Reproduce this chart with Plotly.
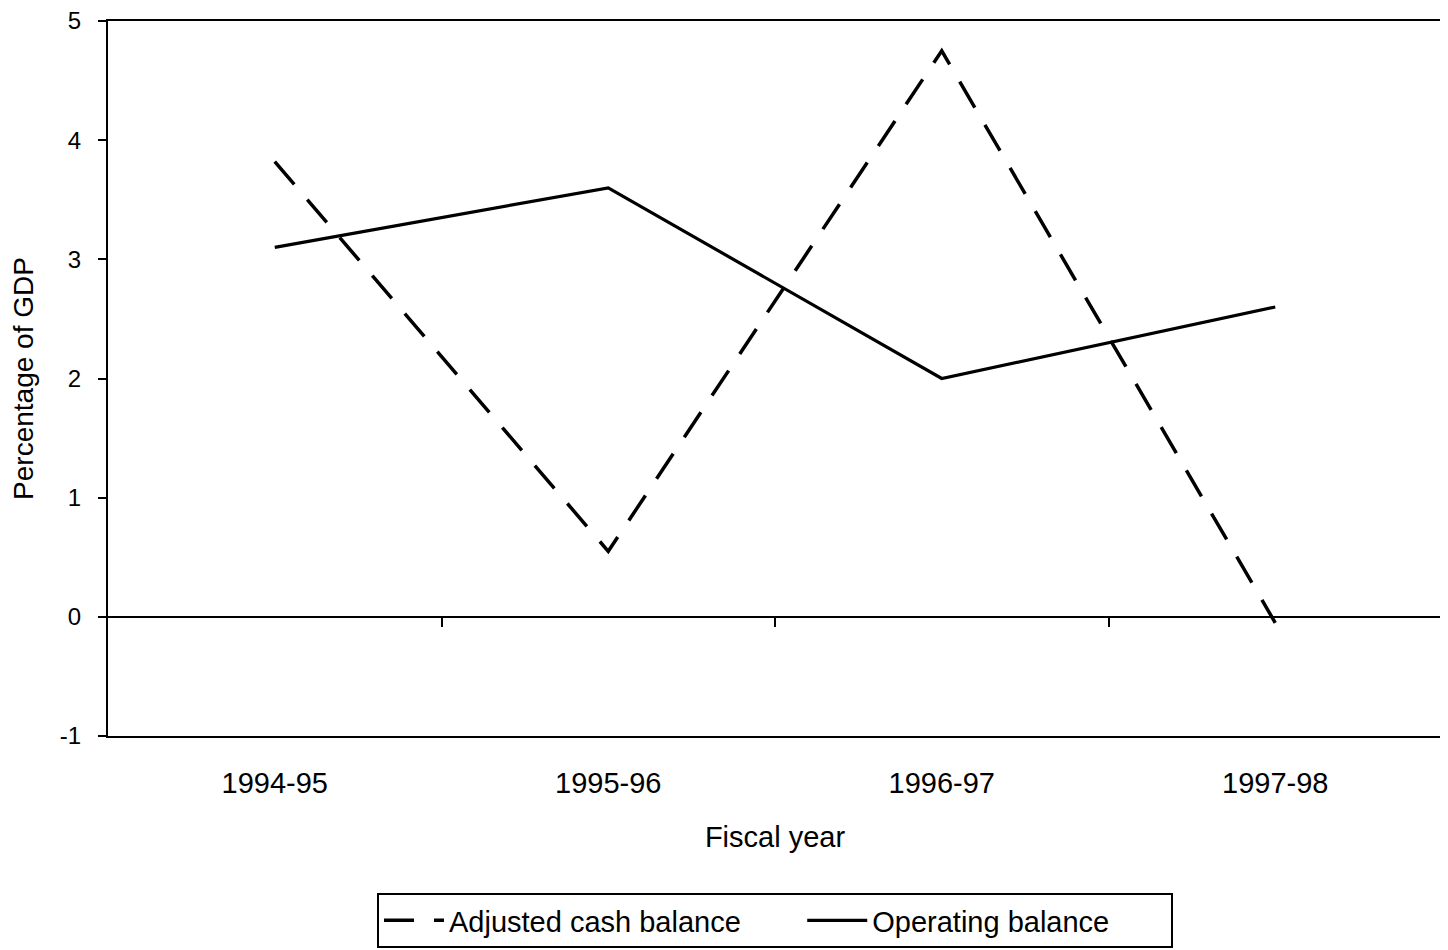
import plotly.graph_objects as go

categories = ["1994-95", "1995-96", "1996-97", "1997-98"]
adjusted_cash = [3.82, 0.55, 4.75, -0.05]
operating = [3.1, 3.6, 2.0, 2.6]
y_ticks = [-1, 0, 1, 2, 3, 4, 5]
y_tick_text = ["-1", "0", "1", "2", "3", "4", "5"]

FONT = "Liberation Sans, Arial, sans-serif"
xpos = list(range(len(categories)))

fig = go.Figure()
fig.add_trace(go.Scatter(x=xpos, y=adjusted_cash, mode="lines",
                         name="Adjusted cash balance       ",
                         line=dict(color="black", width=3.5, dash="30px,20px")))
fig.add_trace(go.Scatter(x=xpos, y=operating, mode="lines", name="Operating balance       ",
                         line=dict(color="black", width=3.2)))
# invisible trace on secondary axis (category ticks on zero line)
fig.add_trace(go.Scatter(x=[xpos[0]], y=[0], xaxis="x2", mode="markers",
                         marker=dict(opacity=0), showlegend=False, hoverinfo="skip"))

# page has an 8px body margin: figure sized/offset to compensate
fig.update_layout(
    width=1440, height=942,
    paper_bgcolor="white", plot_bgcolor="white",
    margin=dict(l=100, r=6, t=13, b=214, autoexpand=False),
    font=dict(family=FONT, size=29, color="black"),
    showlegend=True,
    legend=dict(orientation="h", x=0.5, xanchor="center", xref="paper",
                y=0.0605, yanchor="top", yref="container",
                bordercolor="black", borderwidth=2, font=dict(family=FONT, size=29),
                itemwidth=60, tracegroupgap=0),
    xaxis=dict(range=[-0.5, 3.5], tickvals=xpos, ticktext=categories, ticks="",
               tickfont=dict(family=FONT, size=29, color="black"), automargin=False,
               showgrid=False, zeroline=False, showline=True, linecolor="black",
               linewidth=2, mirror=True, ticklabelstandoff=20,
               title=dict(text="Fiscal year", standoff=29, font=dict(family=FONT, size=29))),
    xaxis2=dict(range=[-0.5, 3.5], overlaying="x", anchor="free", position=1/6,
                tickvals=[0.5, 1.5, 2.5], ticks="outside", ticklen=9, tickwidth=2,
                tickcolor="black", showticklabels=False, showgrid=False, zeroline=False,
                showline=True, linecolor="black", linewidth=2),
    yaxis=dict(range=[-1, 5], tickvals=y_ticks, ticktext=y_tick_text, ticks="outside",
               ticklen=8, tickwidth=2, tickfont=dict(family=FONT, size=24, color="black"),
               automargin=False, ticklabeloverflow="allow",
               tickcolor="black", showgrid=False, zeroline=False, showline=True,
               linecolor="black", linewidth=2, mirror=True, ticklabelstandoff=12,
               title=dict(text="Percentage of GDP", standoff=27, font=dict(family=FONT, size=28))),
)

fig.write_html("out.html")
